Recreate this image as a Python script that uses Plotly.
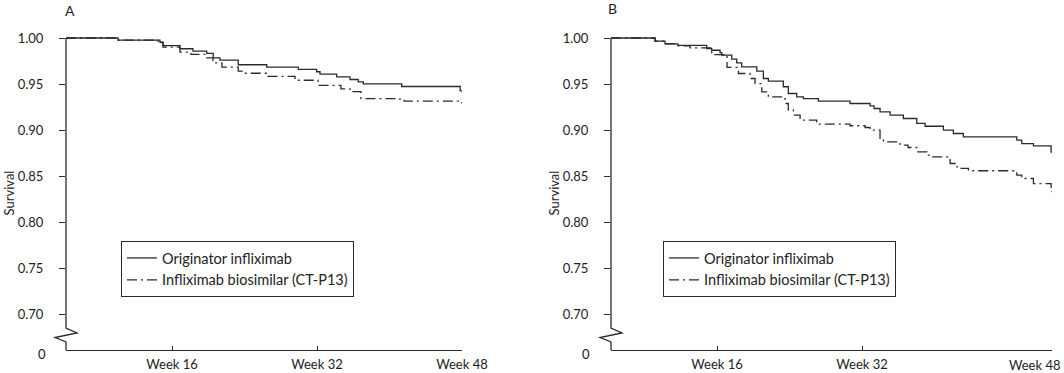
import plotly.graph_objects as go

# ---------------- data (weeks, survival) ----------------
a_orig_weeks = [4.3, 10.04, 14.67, 15.0, 16.88, 18.31, 19.83, 20.55, 21.29, 23.31, 26.45, 29.93, 31.96, 32.33, 34.17,
                35.64, 36.55, 37.11, 41.34, 47.8, 48.0]
a_orig_surv = [1.000, 0.9976, 0.9954, 0.9918, 0.9883, 0.9857, 0.9832, 0.9785, 0.9759, 0.9709, 0.9683, 0.9658, 0.9633,
               0.9607, 0.9578, 0.9549, 0.9524, 0.9502, 0.9473, 0.9425, 0.9425]
a_bio_weeks = [4.3, 10.04, 14.45, 15.0, 16.88, 18.09, 19.83, 20.52, 21.51, 23.31, 23.83, 26.59, 29.57, 32.11, 34.64,
               35.64, 36.85, 41.15, 41.6, 47.8, 48.0]
a_bio_surv = [1.000, 0.9976, 0.9951, 0.9900, 0.9846, 0.9821, 0.9785, 0.9730, 0.9683, 0.9639, 0.9617, 0.9582, 0.9541,
              0.9484, 0.9448, 0.9418, 0.9342, 0.9321, 0.9313, 0.9296, 0.9296]

b_orig_weeks = [4.3, 9.16, 10.26, 11.69, 14.86, 15.41, 16.33, 16.52, 17.62, 18.17, 18.72, 20.38, 21.11, 21.66, 23.31,
                23.86, 24.79, 25.52, 27.17, 30.67, 32.88, 33.32, 33.98, 35.09, 36.55, 38.03, 38.95, 40.97, 42.07,
                43.17, 49.07, 49.62, 50.9, 52.85, 52.95]
b_orig_surv = [1.000, 0.9965, 0.9937, 0.9920, 0.9886, 0.9867, 0.9842, 0.9813, 0.9770, 0.9730, 0.9687, 0.9639, 0.9560,
               0.9531, 0.9470, 0.9397, 0.9361, 0.9342, 0.9313, 0.9288, 0.9263, 0.9234, 0.9198, 0.9161, 0.9125,
               0.9071, 0.9041, 0.8998, 0.8962, 0.8926, 0.8889, 0.8853, 0.8828, 0.8760, 0.8760]
b_bio_weeks = [4.3, 9.16, 10.26, 11.69, 13.02, 15.41, 17.1, 18.35, 19.64, 20.19, 20.93, 21.66, 23.5, 23.86, 24.42,
               25.16, 26.99, 30.67, 32.33, 32.88, 33.98, 34.35, 36.19, 37.07, 38.03, 39.14, 39.69, 41.71, 42.26,
               42.81, 43.73, 49.07, 49.62, 50.9, 52.85, 52.95]
b_bio_surv = [1.000, 0.9965, 0.9937, 0.9916, 0.9893, 0.9820, 0.9680, 0.9614, 0.9560, 0.9505, 0.9415, 0.9360, 0.9288,
              0.9215, 0.9161, 0.9107, 0.9063, 0.9046, 0.9027, 0.8998, 0.8908, 0.8872, 0.8835, 0.8810, 0.8763,
              0.8726, 0.8709, 0.8636, 0.8600, 0.8582, 0.8557, 0.8509, 0.8473, 0.8418, 0.8330, 0.8330]

series_names = ["Originator infliximab", "Infliximab biosimilar (CT-P13)"]
panel_labels = ["A", "B"]
y_tick_vals = [0.70, 0.75, 0.80, 0.85, 0.90, 0.95, 1.00]
y_tick_text = ["0.70", "0.75", "0.80", "0.85", "0.90", "0.95", "1.00"]
a_week_ticks = [16, 32, 48]
b_week_ticks = [16, 32, 52.95]
week_tick_text = ["Week 16", "Week 32", "Week 48"]

# ---------------- layout constants ----------------
W, H = 1064, 373
ML, MR, MT, MB = 66, 12, 36, 23
PW = W - ML - MR
PH = H - MT - MB
Y_TOP, Y_BOT = 1.00217, 0.6609
X_MIN = 4.3
FONT = "Lato, 'Open Sans', sans-serif"
INK = "#2b2b2b"
DASH = "10px,4px,2px,4px"


def px_x(px):
    return (px - ML) / PW


def px_y(py):
    return (H - MB - py) / PH


def val_y(v):
    return (v - Y_BOT) / (Y_TOP - Y_BOT)


dom_a = [0, px_x(462)]
dom_b = [px_x(611), 1.0]

fig = go.Figure()
fig.add_trace(go.Scatter(x=a_orig_weeks, y=a_orig_surv, mode="lines", line_shape="hv",
                         line=dict(color=INK, width=1.3), name=series_names[0],
                         xaxis="x", yaxis="y", legend="legend"))
fig.add_trace(go.Scatter(x=a_bio_weeks, y=a_bio_surv, mode="lines", line_shape="hv",
                         line=dict(color=INK, width=1.3, dash=DASH), name=series_names[1],
                         xaxis="x", yaxis="y", legend="legend"))
fig.add_trace(go.Scatter(x=b_orig_weeks, y=b_orig_surv, mode="lines", line_shape="hv",
                         line=dict(color=INK, width=1.3), name=series_names[0],
                         xaxis="x2", yaxis="y2", legend="legend2"))
fig.add_trace(go.Scatter(x=b_bio_weeks, y=b_bio_surv, mode="lines", line_shape="hv",
                         line=dict(color=INK, width=1.3, dash=DASH), name=series_names[1],
                         xaxis="x2", yaxis="y2", legend="legend2"))

xcommon = dict(showline=True, linecolor=INK, linewidth=1.3, ticks="inside", ticklen=4, tickcolor=INK,
               tickwidth=1.2, showgrid=False, zeroline=False, ticklabelstandoff=2, automargin=False,
               tickfont=dict(family=FONT, size=13, color="#222"))
ycommon = dict(range=[Y_BOT, Y_TOP], showline=False, ticks="outside", ticklen=6, tickcolor=INK, tickwidth=1.2,
               tickvals=y_tick_vals, ticktext=y_tick_text, showgrid=False, zeroline=False, automargin=False,
               ticklabelstandoff=13, tickfont=dict(family=FONT, size=13, color="#222"),
               title=dict(text="Survival", font=dict(family=FONT, size=13, color="#222"), standoff=0))

legcommon = dict(bordercolor=INK, borderwidth=1, bgcolor="white", yanchor="top", xanchor="left",
                 font=dict(family=FONT, size=14.5, color="#222"), tracegroupgap=0, itemclick=False)

fig.update_layout(
    width=W, height=H, margin=dict(l=ML, r=MR, t=MT, b=MB, autoexpand=False),
    paper_bgcolor="white", plot_bgcolor="white",
    xaxis=dict(domain=dom_a, range=[X_MIN, 48.0], tickvals=a_week_ticks, ticktext=week_tick_text,
               anchor="y", **xcommon),
    xaxis2=dict(domain=dom_b, range=[X_MIN, 52.95], tickvals=b_week_ticks, ticktext=week_tick_text[:2] + [""],
                anchor="y2", **xcommon),
    yaxis=dict(anchor="x", **ycommon),
    yaxis2=dict(anchor="x2", **ycommon),
    legend=dict(x=px_x(121), y=px_y(241), **legcommon),
    legend2=dict(x=px_x(663), y=px_y(241), **legcommon),
    showlegend=True,
)

# axis lines with break (zigzag) drawn as paths
shapes = []
for ax_px in (66, 611):
    pts = [(ax_px, None), (ax_px, 328), (ax_px + 11, 333), (ax_px - 11, 337.5), (ax_px, 342), (ax_px, 350)]
    coords = []
    for i, (xp, yp) in enumerate(pts):
        yy = val_y(1.0) if yp is None else px_y(yp)
        coords.append(f"{'M' if i == 0 else 'L'} {px_x(xp):.5f},{yy:.5f}")
    shapes.append(dict(type="path", path=" ".join(coords), xref="paper", yref="paper",
                       line=dict(color=INK, width=1.3)))
fig.update_layout(shapes=shapes)

annots = []
for lab, (xp, yp) in zip(panel_labels, [(70, 10), (612.5, 8)]):
    annots.append(dict(text=lab, x=px_x(xp), y=px_y(yp), xref="paper", yref="paper", showarrow=False,
                       xanchor="center", yanchor="middle", font=dict(family=FONT, size=14, color="#222")))
for xp in (48, 592):
    annots.append(dict(text="0", x=px_x(xp), y=px_y(354), xref="paper", yref="paper", showarrow=False,
                       xanchor="right", yanchor="middle", font=dict(family=FONT, size=13, color="#222")))
annots.append(dict(text=week_tick_text[2], x=px_x(1062), y=px_y(364.5), xref="paper", yref="paper",
                   showarrow=False, xanchor="right", yanchor="middle",
                   font=dict(family=FONT, size=13, color="#222")))
fig.update_layout(annotations=annots)

fig.write_html("out.html", config={"displayModeBar": False},
               post_script="document.body.style.margin='0';document.documentElement.style.overflow='hidden';")
